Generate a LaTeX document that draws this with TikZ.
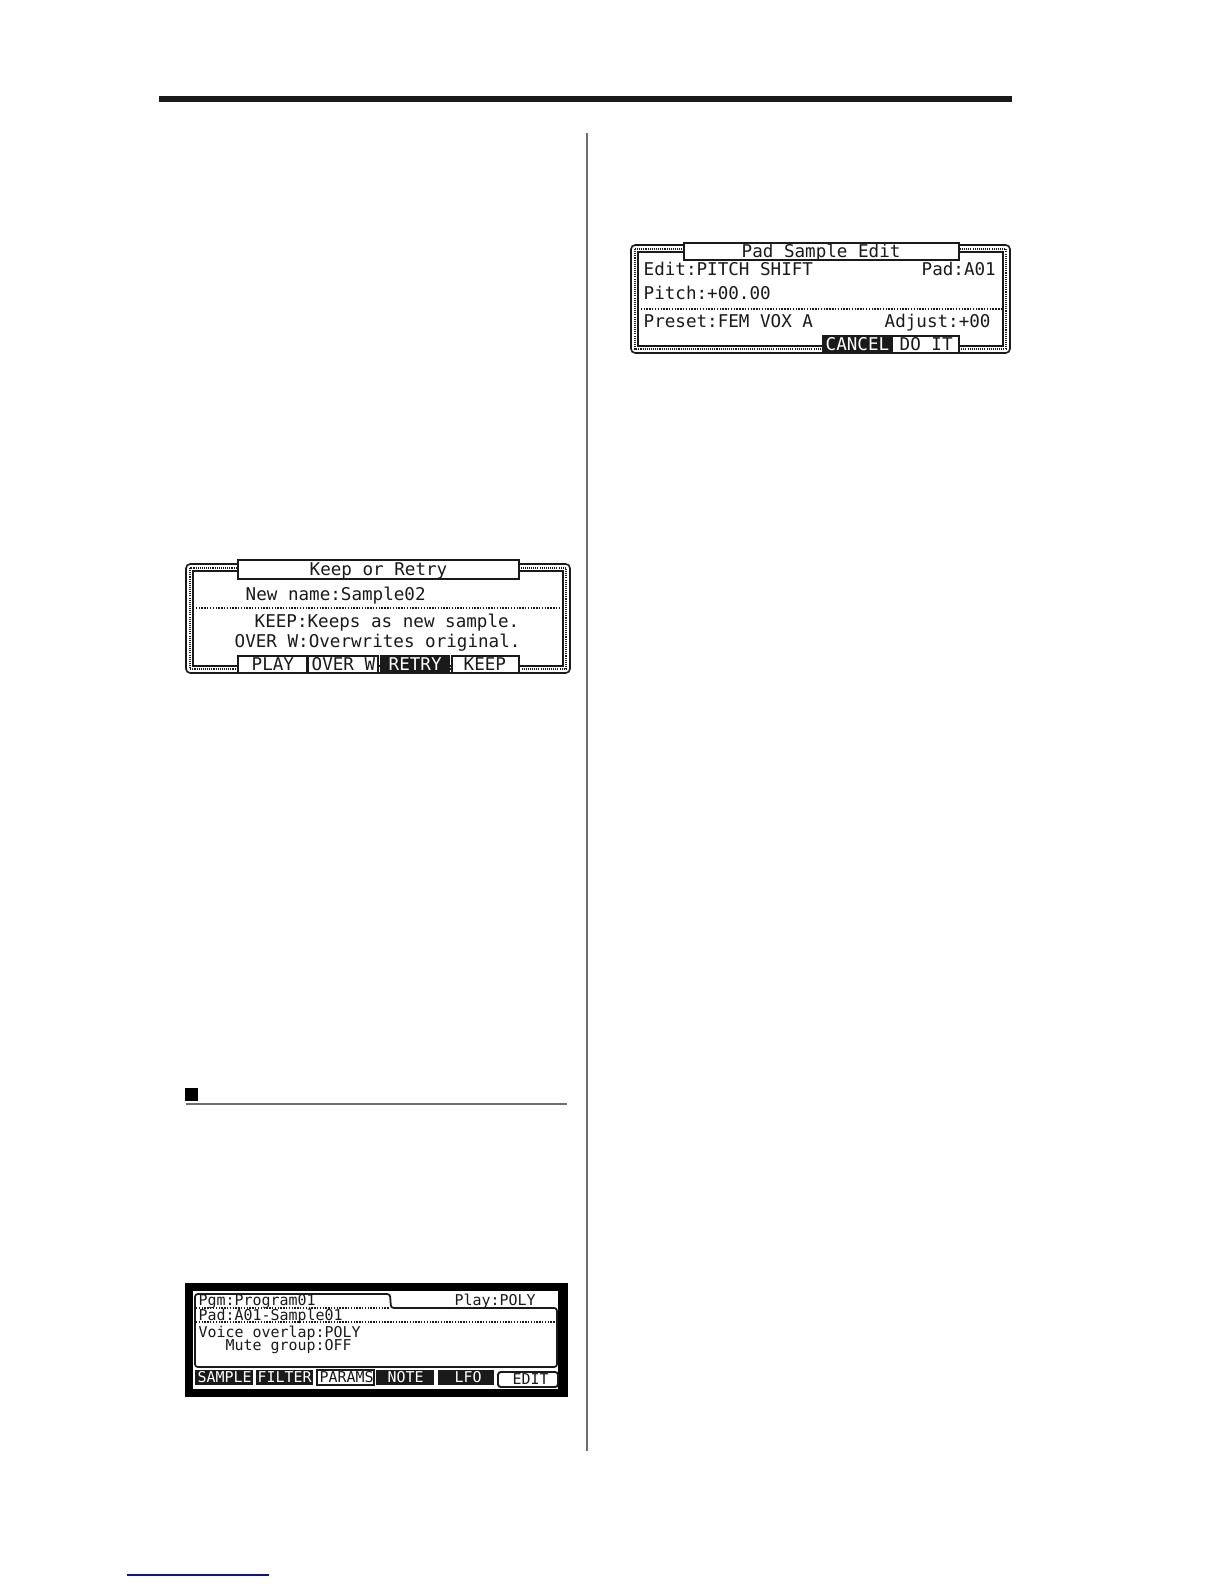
\documentclass[tikz,border=0pt]{standalone}
\usepackage{fontspec}
\setmonofont{DejaVu Sans Mono}
\usetikzlibrary{calc}
\definecolor{lcdblack}{HTML}{1A1A1A}
\definecolor{rulegray}{HTML}{6E6E6E}
\definecolor{linkblue}{HTML}{10108C}
\tikzset{
  lcdtext/.style={anchor=base west,inner sep=0pt,font=\ttfamily\fontsize{5}{6}\selectfont,text=lcdblack},
  lcdsmall/.style={anchor=base west,inner sep=0pt,font=\ttfamily\fontsize{4.25}{5}\selectfont,text=lcdblack},
  lcdframe/.style={draw=lcdblack,line width=0.45pt,rounded corners=1.2pt},
  lcdinner/.style={draw=lcdblack,line width=0.3pt},
  lcddots/.style={draw=lcdblack,line width=0.75pt,dash pattern=on 0.3pt off 0.3pt},
  lcddivider/.style={draw=lcdblack,line width=0.3pt,dash pattern=on 0.4pt off 0.4pt},
  lcdbox/.style={draw=lcdblack,line width=0.55pt,fill=white},
  lcdblock/.style={fill=lcdblack}
}
\begin{document}
\begin{tikzpicture}[x=0.01cm,y=-0.01cm]
        \useasboundingbox[fill=white] (0, 0) rectangle (1224, 1584);
        % page rules
        \fill[lcdblack] (159, 96) rectangle (1012, 102);
        \draw[rulegray,line width=0.33pt] (587, 133) -- (587, 1451);
        \fill[black] (185, 1088) rectangle (198, 1101);
        \draw[rulegray,line width=0.3pt] (186, 1104) -- (567, 1104);
        \draw[linkblue,line width=0.35pt] (127, 1575) -- (269, 1575);
        % keep or retry
        \draw[lcddots] (190, 568) rectangle (566, 669);
        \draw[lcdframe] (186, 564) rectangle (570, 673);
        \draw[lcdinner] (193, 571) rectangle (563, 666);
        \draw[lcdbox] (238, 560) rectangle (519, 579);
        \node[lcdtext] (keeptitle) at (309, 575) {Keep or Retry};
        \node[lcdtext] (newname) at (245, 600) {New name:Sample02};
        \draw[lcddivider] (193, 608) -- (563, 608);
        \node[lcdtext] (keepline) at (254, 627) {KEEP:Keeps as new sample.};
        \node[lcdtext] (overline) at (234, 647) {OVER W:Overwrites original.};
        \draw[lcdbox] (238, 656) rectangle (307, 673);
        \draw[lcdbox] (308, 656) rectangle (378, 673);
        \fill[lcdblock] (380, 655) rectangle (450, 673);
        \draw[lcdbox] (452, 656) rectangle (519, 673);
        \node[lcdtext] (playkey) at (251, 670) {PLAY};
        \node[lcdtext] (overkey) at (311, 670) {OVER W};
        \node[lcdtext,text=white] (retrykey) at (388, 670) {RETRY};
        \node[lcdtext] (keepkey) at (463, 670) {KEEP};
        % pad sample edit
        \draw[lcddots] (635, 249) rectangle (1006, 349);
        \draw[lcdframe] (631, 245) rectangle (1010, 353);
        \draw[lcdinner] (638, 252) rectangle (1003, 346);
        \draw[lcdbox] (684, 243) rectangle (959, 260);
        \node[lcdtext] (padtitle) at (741, 257) {Pad Sample Edit};
        \node[lcdtext] (editline) at (643, 275) {Edit:PITCH SHIFT};
        \node[lcdtext] (padline) at (921, 275) {Pad:A01};
        \node[lcdtext] (pitchline) at (643, 299) {Pitch:+00.00};
        \draw[lcddivider] (638, 309) -- (1003, 309);
        \node[lcdtext] (presetline) at (643, 327) {Preset:FEM VOX A};
        \node[lcdtext] (adjustline) at (884, 327) {Adjust:+00};
        \fill[lcdblock] (822, 335) rectangle (891, 353);
        \draw[lcdbox] (892, 336) rectangle (959, 353);
        \node[lcdtext,text=white] (cancelkey) at (825, 350) {CANCEL};
        \node[lcdtext] (doitkey) at (899, 350) {DO IT};
        % program screen
        \fill[black] (185, 1283) rectangle (568, 1397);
        \fill[white] (193, 1291) rectangle (558, 1389);
        \draw[lcdbox,fill=none,line width=0.5pt,rounded corners=0.8pt] (195, 1294) -- (390, 1294) -- (391, 1308) -- (557, 1308) -- (557, 1367) -- (195, 1367) -- cycle;
        \node[lcdsmall] (pgmline) at (198, 1305) {Pgm:Program01};
        \node[lcdsmall] (playline) at (454, 1305) {Play:POLY};
        \draw[lcddivider] (196, 1308) -- (390, 1308);
        \node[lcdsmall] (sampleline) at (198, 1320) {Pad:A01-Sample01};
        \draw[lcddivider] (196, 1322) -- (556, 1322);
        \node[lcdsmall] (voiceline) at (198, 1337) {Voice overlap:POLY};
        \node[lcdsmall] (muteline) at (225, 1350) {Mute group:OFF};
        \fill[lcdblock] (195, 1370) rectangle (253, 1385);
        \fill[lcdblock] (256, 1370) rectangle (313, 1385);
        \draw[lcdbox,line width=0.4pt] (317, 1370) rectangle (374, 1385);
        \fill[lcdblock] (376, 1370) rectangle (434, 1385);
        \fill[lcdblock] (438, 1370) rectangle (494, 1385);
        \draw[lcdbox,rounded corners=0.8pt] (498, 1372) rectangle (558, 1387);
        \node[lcdsmall,text=white] (samplekey) at (197, 1382) {SAMPLE};
        \node[lcdsmall,text=white] (filterkey) at (257, 1382) {FILTER};
        \node[lcdsmall] (paramskey) at (319, 1382) {PARAMS};
        \node[lcdsmall,text=white] (notekey) at (387, 1382) {NOTE};
        \node[lcdsmall,text=white] (lfokey) at (454, 1382) {LFO};
        \node[lcdsmall] (editkey) at (512, 1384) {EDIT};
      \end{tikzpicture}
\end{document}
